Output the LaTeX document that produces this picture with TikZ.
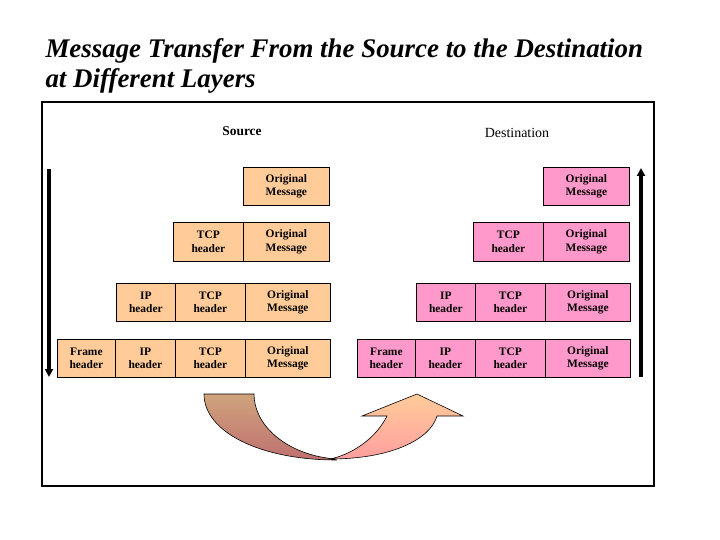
\documentclass[tikz,border=0pt]{standalone}
\usepackage{fontspec}
\setmainfont{Liberation Serif}
\usepackage{tikz}
\usetikzlibrary{arrows.meta, positioning}

\definecolor{srcfill}{HTML}{FFCC99}
\definecolor{dstfill}{HTML}{FF99CC}
\definecolor{bendtop}{HTML}{CFA47C}
\definecolor{bendbot}{HTML}{BF7070}
\definecolor{risetop}{HTML}{FFCC99}
\definecolor{risebot}{HTML}{FF9F9F}

\newcommand{\txtmsg}{Original\\Message}
\newcommand{\txttcp}{TCP\\header}
\newcommand{\txtip}{IP\\header}
\newcommand{\txtfrm}{Frame\\header}

\tikzset{
    pdu/.style={draw=black, line width=0.8pt, inner sep=0pt, align=center,
        font=\fontsize{11.5}{13.5}\selectfont\bfseries},
    flow/.style={line width=3.4bp, -{Triangle[width=8bp,length=8bp]}},
    headline/.style={anchor=base west, font=\fontsize{27}{30}\selectfont\bfseries\itshape},
}

\begin{document}
\begin{tikzpicture}[x=1bp, y=-1bp]
\useasboundingbox (0,0) rectangle (720,540);
\node[headline] (title1) at (42,58) {Message Transfer From the Source to the Destination};
\node[headline] (title2) at (42,88) {at Different Layers};
\draw[line width=1.2bp] (42,102) rectangle (654,486);

\node[font=\fontsize{13.5}{15}\selectfont\bfseries] (srclabel) at (242,131) {Source};
\node[font=\fontsize{14}{16}\selectfont] (dstlabel) at (517,133) {Destination};

\foreach \side/\dx/\clr in {src/0/srcfill, dst/300/dstfill} {
    \foreach \layer/\kind/\xa/\xb/\ya/\yb in {
        1/msg/243/329/167/205,
        2/tcp/173/243/222/261,
        2/msg/243/329/222/261,
        3/ip/116/175/283/321,
        3/tcp/175/245/283/321,
        3/msg/245/330/283/321,
        4/frm/57/115/339/377,
        4/ip/115/175/339/377,
        4/tcp/175/245/339/377,
        4/msg/245/330/339/377
    } {
        \pgfmathsetmacro{\boxw}{\xb-\xa}
        \pgfmathsetmacro{\boxh}{\yb-\ya}
        \node[pdu, fill=\clr, minimum width=\boxw bp, minimum height=\boxh bp, anchor=north west] (\side\layer\kind) at (\xa+\dx,\ya) {\csname txt\kind\endcsname};
    }
}

\coordinate (downtop) at (49,169);
\coordinate (downbot) at (49,377);
\coordinate (upbot) at (641,377);
\coordinate (uptop) at (641,168);
\draw[flow] (downtop) -- (downbot);
\draw[flow] (upbot) -- (uptop);

\draw[line width=0.6bp, top color=bendtop, bottom color=bendbot]
    (204,394) -- (254,394) .. controls (254,425) and (285,452) .. (327,458)
    -- (337,460) .. controls (260,460) and (204,432) .. (204,394) -- cycle;
\draw[line width=0.6bp, top color=risetop, bottom color=risebot]
    (330,459) .. controls (390,459) and (430,440) .. (437,416)
    -- (463,416) -- (417,394) -- (362,416) -- (387,416)
    .. controls (375,440) and (350,455) .. (330,459) -- cycle;
\end{tikzpicture}
\end{document}
